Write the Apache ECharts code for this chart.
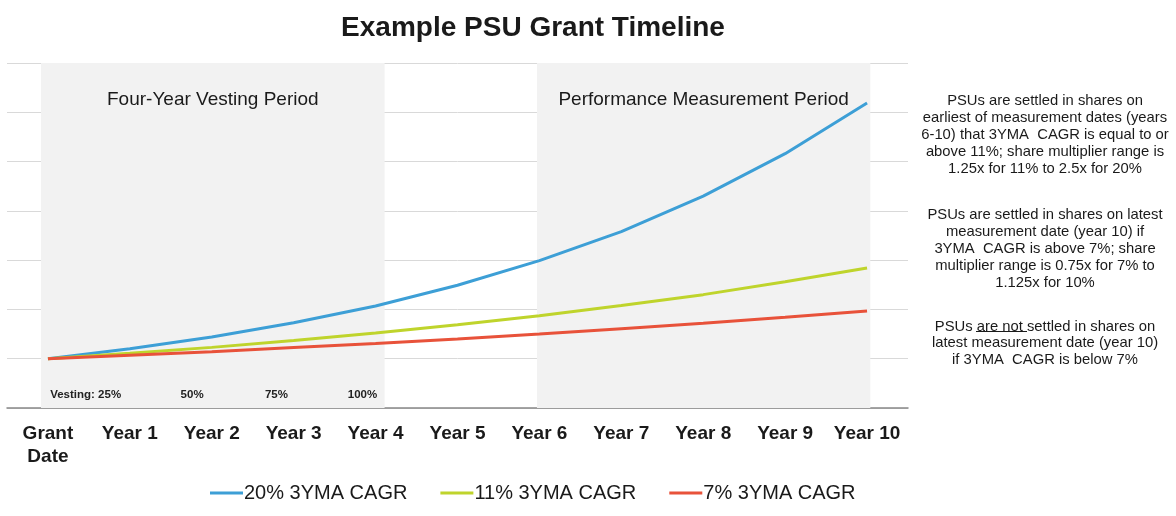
<!DOCTYPE html>
<html>
<head>
<meta charset="utf-8">
<script src="https://cdn.jsdelivr.net/npm/echarts@6/dist/echarts.min.js"></script>
<style>
  html, body { margin: 0; padding: 0; background: #fff; }
  #chart { width: 1176px; height: 516px; }
</style>
</head>
<body>
<div id="chart"></div>
<script>
// 数据
var categories = ['Grant\nDate', 'Year 1', 'Year 2', 'Year 3', 'Year 4', 'Year 5',
                  'Year 6', 'Year 7', 'Year 8', 'Year 9', 'Year 10'];
var seriesNames = ['20% 3YMA CAGR', '11% 3YMA CAGR', '7% 3YMA CAGR'];
var cagr20 = [1, 1.20, 1.44, 1.73, 2.07, 2.49, 2.99, 3.58, 4.30, 5.16, 6.19];
var cagr11 = [1, 1.11, 1.23, 1.37, 1.52, 1.69, 1.87, 2.08, 2.30, 2.56, 2.84];
var cagr7  = [1, 1.07, 1.14, 1.23, 1.31, 1.40, 1.50, 1.61, 1.72, 1.84, 1.97];
var periods = [
    {label: 'Four-Year Vesting Period', from: -0.085, to: 4.11},
    {label: 'Performance Measurement Period', from: 5.97, to: 10.04}
];
var vestingLabels = ['Vesting: 25%', '50%', '75%', '100%'];
var vestingAt = [0.46, 1.76, 2.79, 3.84];
var notes = [
    'PSUs are settled in shares on\nearliest of measurement dates (years\n6-10) that 3YMA  CAGR is equal to or\nabove 11%; share multiplier range is\n1.25x for 11% to 2.5x for 20%',
    'PSUs are settled in shares on latest\nmeasurement date (year 10) if\n3YMA  CAGR is above 7%; share\nmultiplier range is 0.75x for 7% to\n1.125x for 10%',
    'PSUs are not settled in shares on\nlatest measurement date (year 10)\nif 3YMA  CAGR is below 7%'
];
var colors = ['#3d9fd6', '#bfd42c', '#e8523a'];

var chart = echarts.init(document.getElementById('chart'));
var font = '"Liberation Sans", Arial, sans-serif';

var lineSeries = [cagr20, cagr11, cagr7].map(function (vals, i) {
    return {
        name: seriesNames[i],
        type: 'line',
        data: vals,
        symbol: 'none',
        smooth: false,
        lineStyle: {width: 3, color: colors[i]},
        itemStyle: {color: colors[i]},
        z: 5
    };
});

// 背景区域和归属比例标签，挂在隐藏的数值x轴上
var helperSeries = {
    type: 'line',
    xAxisIndex: 1,
    data: [],
    silent: true,
    markArea: {
        silent: true,
        itemStyle: {color: '#f2f2f2'},
        label: {
            position: 'insideTop',
            distance: 27,
            color: '#1a1a1a',
            fontSize: 19,
            fontFamily: font
        },
        data: periods.map(function (p) {
            return [{name: p.label, xAxis: p.from, yAxis: 7}, {xAxis: p.to, yAxis: 0}];
        })
    },
    markPoint: {
        silent: true,
        symbolSize: 0,
        label: {
            show: true,
            position: 'inside',
            color: '#222',
            fontSize: 11.5,
            fontWeight: 'bold',
            fontFamily: font,
            formatter: '{b}'
        },
        data: vestingLabels.map(function (t, i) {
            return {name: t, coord: [vestingAt[i], 0.26]};
        })
    }
};

var noteStyle = {align: 'center', verticalAlign: 'top', fontSize: 14.8, lineHeight: 16.9, fill: '#1a1a1a', fontFamily: font};

var option = {
    animation: false,
    title: {
        text: 'Example PSU Grant Timeline',
        left: 528,
        textAlign: 'center',
        top: 9,
        textStyle: {fontSize: 28, fontWeight: 'bold', color: '#1a1a1a', fontFamily: font}
    },
    legend: {
        bottom: 8,
        left: 205,
        orient: 'horizontal',
        data: seriesNames,
        icon: 'rect',
        itemWidth: 33,
        itemHeight: 3,
        itemGap: 33,
        textStyle: {fontSize: 20, color: '#1a1a1a', fontFamily: font, padding: [0, 0, 0, -4]}
    },
    grid: {left: 7, right: 268, top: 63, bottom: 108, containLabel: false},
    xAxis: [{
        type: 'category',
        data: categories,
        boundaryGap: true,
        axisLine: {lineStyle: {color: '#888', width: 1.5}},
        axisTick: {show: false},
        axisLabel: {
            margin: 14,
            fontSize: 19,
            fontWeight: 'bold',
            color: '#1a1a1a',
            fontFamily: font,
            lineHeight: 23,
            interval: 0
        }
    }, {
        type: 'value',
        min: -0.5,
        max: 10.5,
        show: false
    }],
    yAxis: {
        type: 'value',
        min: 0,
        max: 7,
        interval: 1,
        axisLabel: {show: false},
        axisLine: {show: false},
        axisTick: {show: false},
        splitLine: {lineStyle: {color: '#d9d9d9', width: 1}}
    },
    graphic: [
        {type: 'text', x: 1045, y: 92.5, style: Object.assign({text: notes[0]}, noteStyle)},
        {type: 'text', x: 1045, y: 206.5, style: Object.assign({text: notes[1]}, noteStyle)},
        {type: 'text', x: 1045, y: 318, style: Object.assign({text: notes[2]}, noteStyle)},
        {type: 'line', shape: {x1: 976, y1: 331.5, x2: 1027, y2: 331.5}, style: {stroke: '#1a1a1a', lineWidth: 1}}
    ],
    series: lineSeries.concat([helperSeries])
};

chart.setOption(option);
</script>
</body>
</html>
